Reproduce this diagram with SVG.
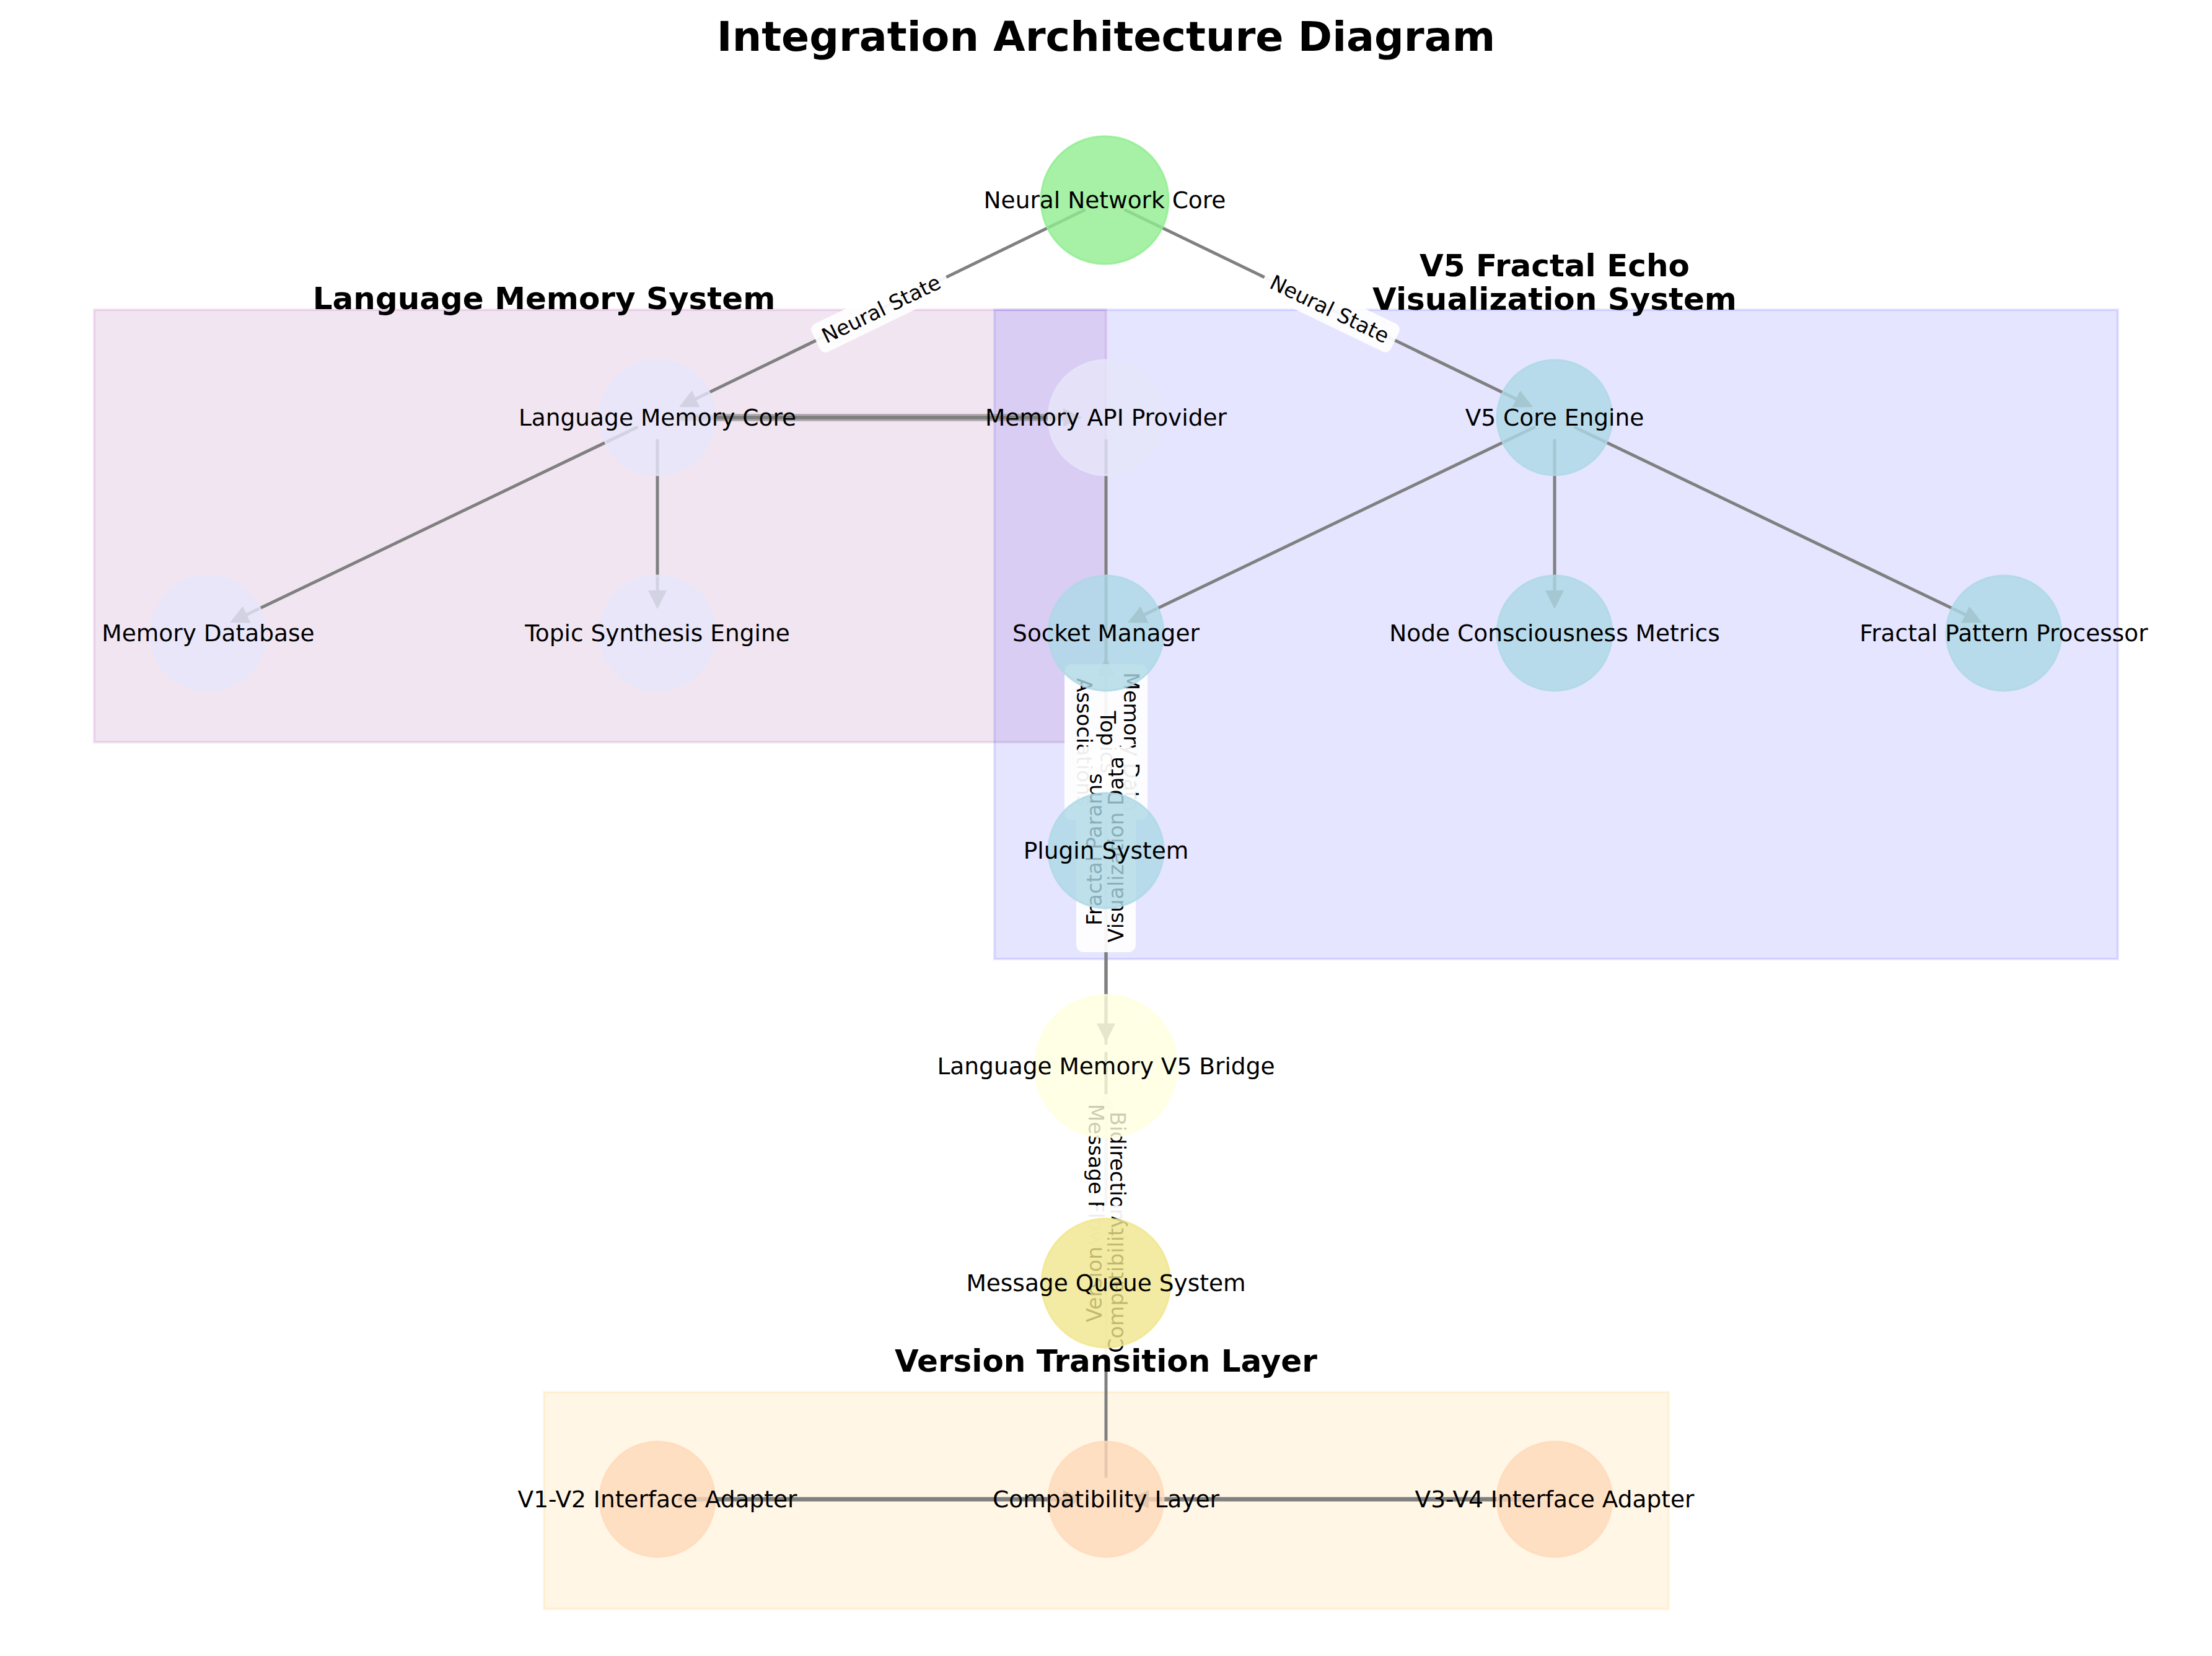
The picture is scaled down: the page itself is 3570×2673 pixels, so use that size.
<svg xmlns="http://www.w3.org/2000/svg" width="3570" height="2673" viewBox="0 0 3570 2673">
<style>
.bg{fill:#ffffff}
.grp{stroke-width:4}
.edge{stroke:#808080;stroke-width:5;fill:none;stroke-linecap:round}
.edge-thick{stroke:#808080;stroke-width:7;fill:none;stroke-linecap:round}
.lbox{fill:#ffffff;fill-opacity:0.93}
.elabel{font-family:"DejaVu Sans","Liberation Sans",sans-serif;font-size:33.3px;text-anchor:middle;fill:#000}
.node circle{stroke-width:3;fill-opacity:0.8;stroke-opacity:0.8}
.node text{font-family:"DejaVu Sans","Liberation Sans",sans-serif;font-size:37.5px;text-anchor:middle;fill:#000}
.green{fill:#90EE90;stroke:#90EE90}
.lav{fill:#E6E6FA;stroke:#E6E6FA}
.lblue{fill:#ADD8E6;stroke:#ADD8E6}
.lyellow{fill:#FFFFE0;stroke:#FFFFE0}
.khaki{fill:#F0E68C;stroke:#F0E68C}
.peach{fill:#FFDAB9;stroke:#FFDAB9}
.gtitle{font-family:"DejaVu Sans","Liberation Sans",sans-serif;font-size:50px;font-weight:bold;text-anchor:middle;fill:#000}
.title{font-family:"DejaVu Sans","Liberation Sans",sans-serif;font-size:66.7px;font-weight:bold;text-anchor:middle;fill:#000}
</style>
<defs>
<marker id="ah" markerUnits="userSpaceOnUse" markerWidth="30" markerHeight="30" viewBox="0 0 30 30" refX="0" refY="15" orient="auto">
<path d="M0,0 L30,15 L0,30 z" fill="#808080"/>
</marker>
</defs>
<rect class="bg" x="0" y="0" width="3570" height="2673"/>

<g id="groups">
<rect id="group-language-memory" class="grp" x="152" y="500" width="1633" height="698" fill="#800080" fill-opacity="0.1" stroke="#800080" stroke-opacity="0.1"/>
<rect id="group-v5" class="grp" x="1605" y="500" width="1813" height="1048" fill="#0000FF" fill-opacity="0.1" stroke="#0000FF" stroke-opacity="0.1"/>
<rect id="group-version" class="grp" x="878" y="2247" width="1815" height="350" fill="#FFA500" fill-opacity="0.1" stroke="#FFA500" stroke-opacity="0.1"/>
</g>

<g id="connectors">
<line class="edge" x1="1749.7" y1="339.2" x2="1123.1" y2="643.8" marker-end="url(#ah)"/>
<line class="edge" x1="1816.3" y1="339.1" x2="2446.9" y2="643.9" marker-end="url(#ah)"/>
<line class="edge" x1="1027.6" y1="690" x2="398.2" y2="992.1" marker-end="url(#ah)"/>
<line class="edge" x1="1061" y1="711" x2="1061" y2="953" marker-end="url(#ah)"/>
<line x1="1098" y1="674" x2="1716" y2="674" stroke="#808080" stroke-opacity="0.55" stroke-width="12" stroke-linecap="round"/>
<line class="edge" x1="1098" y1="674" x2="1716" y2="674" style="stroke-width:6" marker-end="url(#ah)"/>
<line class="edge" x1="1785" y1="711" x2="1785" y2="1652" marker-end="url(#ah)"/>
<line class="edge" x1="1785" y1="1684" x2="1785" y2="1091" marker-end="url(#ah)"/>
<line class="edge" x1="2475.7" y1="690" x2="1847.2" y2="992.1" marker-end="url(#ah)"/>
<line class="edge" x1="2509" y1="711" x2="2509" y2="953" marker-end="url(#ah)"/>
<line class="edge" x1="2542.4" y1="690" x2="3171.8" y2="992.1" marker-end="url(#ah)"/>
<line class="edge" x1="1785" y1="1700" x2="1785" y2="2001" marker-end="url(#ah)"/>
<line class="edge" x1="1785" y1="2383" x2="1785" y2="1790" marker-end="url(#ah)"/>
<line class="edge-thick" x1="1098" y1="2420" x2="1716" y2="2420" marker-end="url(#ah)"/>
<line class="edge-thick" x1="2472" y1="2420" x2="1854" y2="2420" marker-end="url(#ah)"/>

<g id="label-neural-state-left" transform="translate(1422,498.5) rotate(-25.9)">
<rect class="lbox" x="-117" y="-25" width="234" height="50" rx="10"/>
<text class="elabel" x="0" y="12">Neural State</text>
</g>
<g id="label-neural-state-right" transform="translate(2146,498.5) rotate(25.8)">
<rect class="lbox" x="-117" y="-25" width="234" height="50" rx="10"/>
<text class="elabel" x="0" y="12">Neural State</text>
</g>
<g id="label-memory-data" transform="translate(1785,1198) rotate(90)">
<rect class="lbox" x="-126" y="-67" width="252" height="134" rx="12"/>
<text class="elabel"><tspan x="0" y="-29">Memory Data</tspan><tspan x="0" y="9">Topics</tspan><tspan x="0" y="47">Associations</tspan></text>
</g>
<g id="label-fractal-params" transform="translate(1785,1371) rotate(-90)">
<rect class="lbox" x="-166" y="-48" width="332" height="96" rx="12"/>
<text class="elabel"><tspan x="0" y="-7">Fractal Params</tspan><tspan x="0" y="28">Visualization Data</tspan></text>
</g>
<g id="label-bidirectional" transform="translate(1785,1898) rotate(90)">
<rect class="lbox" x="-132" y="-48" width="264" height="96" rx="12"/>
<text class="elabel"><tspan x="0" y="-7">Bidirectional</tspan><tspan x="0" y="28">Message Flow</tspan></text>
</g>
<g id="label-version-compat" transform="translate(1785,2073) rotate(-90)">
<rect class="lbox" x="-127" y="-48" width="254" height="96" rx="12"/>
<text class="elabel"><tspan x="0" y="-7">Version</tspan><tspan x="0" y="28">Compatibility</tspan></text>
</g>
</g>

<g id="nodes">
<g id="node-neural-network-core" class="node"><circle class="green" cx="1783" cy="323" r="103"/><text x="1783" y="336">Neural Network Core</text></g>
<g id="node-language-memory-core" class="node"><circle class="lav" cx="1061" cy="674" r="93"/><text x="1061" y="687">Language Memory Core</text></g>
<g id="node-memory-api-provider" class="node"><circle class="lav" cx="1785" cy="674" r="93"/><text x="1785" y="687">Memory API Provider</text></g>
<g id="node-v5-core-engine" class="node"><circle class="lblue" cx="2509" cy="674" r="93"/><text x="2509" y="687">V5 Core Engine</text></g>
<g id="node-memory-database" class="node"><circle class="lav" cx="336" cy="1022" r="93"/><text x="336" y="1035">Memory Database</text></g>
<g id="node-topic-synthesis-engine" class="node"><circle class="lav" cx="1061" cy="1022" r="93"/><text x="1061" y="1035">Topic Synthesis Engine</text></g>
<g id="node-socket-manager" class="node"><circle class="lblue" cx="1785" cy="1022" r="93"/><text x="1785" y="1035">Socket Manager</text></g>
<g id="node-consciousness-metrics" class="node"><circle class="lblue" cx="2509" cy="1022" r="93"/><text x="2509" y="1035">Node Consciousness Metrics</text></g>
<g id="node-fractal-pattern-processor" class="node"><circle class="lblue" cx="3234" cy="1022" r="93"/><text x="3234" y="1035">Fractal Pattern Processor</text></g>
<g id="node-plugin-system" class="node"><circle class="lblue" cx="1785" cy="1373" r="93"/><text x="1785" y="1386">Plugin System</text></g>
<g id="node-lm-v5-bridge" class="node"><circle class="lyellow" cx="1785" cy="1721" r="115"/><text x="1785" y="1734">Language Memory V5 Bridge</text></g>
<g id="node-message-queue" class="node"><circle class="khaki" cx="1785" cy="2071" r="104"/><text x="1785" y="2084">Message Queue System</text></g>
<g id="node-v1v2-adapter" class="node"><circle class="peach" cx="1061" cy="2420" r="93"/><text x="1061" y="2433">V1-V2 Interface Adapter</text></g>
<g id="node-compatibility-layer" class="node"><circle class="peach" cx="1785" cy="2420" r="93"/><text x="1785" y="2433">Compatibility Layer</text></g>
<g id="node-v3v4-adapter" class="node"><circle class="peach" cx="2509" cy="2420" r="93"/><text x="2509" y="2433">V3-V4 Interface Adapter</text></g>
</g>

<g id="group-titles">
<text class="gtitle" x="878" y="499">Language Memory System</text>
<text class="gtitle" x="2509" y="446">V5 Fractal Echo</text>
<text class="gtitle" x="2509" y="500">Visualization System</text>
<text class="gtitle" x="1785" y="2214">Version Transition Layer</text>
</g>
<text class="title" x="1785" y="82">Integration Architecture Diagram</text>
</svg>
